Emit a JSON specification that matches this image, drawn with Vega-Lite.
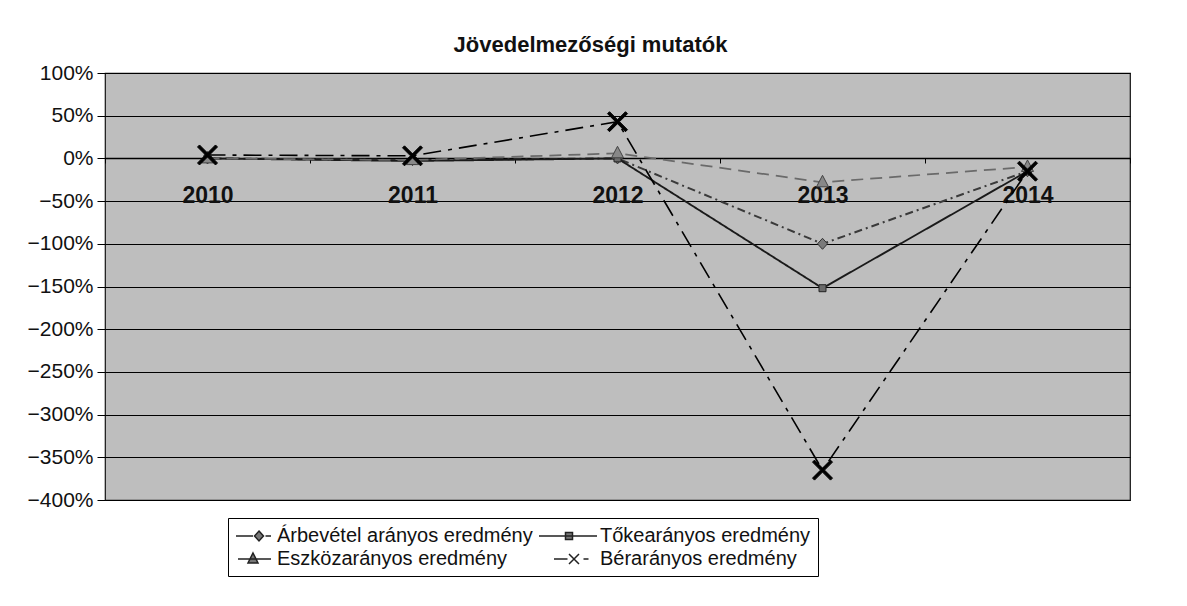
{
  "$schema": "https://vega.github.io/schema/vega-lite/v6.json",
  "autosize": "none",
  "width": 1025,
  "height": 427,
  "padding": {"left": 105, "top": 73, "right": 57, "bottom": 106},
  "background": "#ffffff",
  "title": {
    "text": "Jövedelmezőségi mutatók",
    "anchor": "middle",
    "frame": "group",
    "dx": -27,
    "offset": 5,
    "fontSize": 22,
    "fontWeight": "bold",
    "font": "Liberation Sans",
    "color": "#111"
  },
  "config": {
    "font": "Liberation Sans",
    "view": {"fill": "#bebebe", "stroke": "#111", "strokeWidth": 1.2}
  },
  "data": {
    "values": [
      {"year": "2010", "series": "Árbevétel arányos eredmény", "value": 0.0},
      {"year": "2011", "series": "Árbevétel arányos eredmény", "value": -0.02},
      {"year": "2012", "series": "Árbevétel arányos eredmény", "value": 0.0},
      {"year": "2013", "series": "Árbevétel arányos eredmény", "value": -1.0},
      {"year": "2014", "series": "Árbevétel arányos eredmény", "value": -0.15},
      {"year": "2010", "series": "Tőkearányos eredmény", "value": 0.0},
      {"year": "2011", "series": "Tőkearányos eredmény", "value": -0.03},
      {"year": "2012", "series": "Tőkearányos eredmény", "value": 0.0},
      {"year": "2013", "series": "Tőkearányos eredmény", "value": -1.52},
      {"year": "2014", "series": "Tőkearányos eredmény", "value": -0.15},
      {"year": "2010", "series": "Eszközarányos eredmény", "value": 0.0},
      {"year": "2011", "series": "Eszközarányos eredmény", "value": -0.02},
      {"year": "2012", "series": "Eszközarányos eredmény", "value": 0.06},
      {"year": "2013", "series": "Eszközarányos eredmény", "value": -0.28},
      {"year": "2014", "series": "Eszközarányos eredmény", "value": -0.1},
      {"year": "2010", "series": "Bérarányos eredmény", "value": 0.04},
      {"year": "2011", "series": "Bérarányos eredmény", "value": 0.03},
      {"year": "2012", "series": "Bérarányos eredmény", "value": 0.43},
      {"year": "2013", "series": "Bérarányos eredmény", "value": -3.65},
      {"year": "2014", "series": "Bérarányos eredmény", "value": -0.15}
    ]
  },
  "encoding": {
    "x": {
      "field": "year",
      "type": "ordinal",
      "scale": {"type": "band", "paddingInner": 0, "paddingOuter": 0},
      "axis": {
        "orient": "bottom",
        "offset": -342,
        "title": null,
        "labelAngle": 0,
        "labelFontSize": 23,
        "labelFontWeight": "bold",
        "labelColor": "#111",
        "labelPadding": 21,
        "domain": true,
        "domainColor": "#000",
        "domainWidth": 1.5,
        "ticks": true,
        "tickBand": "extent",
        "tickSize": 5,
        "tickColor": "#000",
        "grid": false
      }
    },
    "y": {
      "field": "value",
      "type": "quantitative",
      "scale": {"domain": [-4, 1], "nice": false, "zero": false},
      "axis": {
        "title": null,
        "values": [-4, -3.5, -3, -2.5, -2, -1.5, -1, -0.5, 0, 0.5, 1],
        "format": ".0%",
        "labelFontSize": 21,
        "labelColor": "#111",
        "labelPadding": 4,
        "tickSize": 8,
        "tickColor": "#000",
        "domain": false,
        "grid": true,
        "gridColor": "#000",
        "gridWidth": 1.2,
        "gridOpacity": 1
      }
    }
  },
  "layer": [
    {
      "mark": {"type": "line", "strokeCap": "butt"},
      "encoding": {
        "detail": {"field": "series"},
        "color": {
          "field": "series",
          "scale": {
            "domain": ["Árbevétel arányos eredmény", "Tőkearányos eredmény", "Eszközarányos eredmény", "Bérarányos eredmény"],
            "range": ["#3a3a3a", "#1a1a1a", "#6a6a6a", "#000000"]
          },
          "legend": null
        },
        "strokeDash": {
          "field": "series",
          "scale": {
            "domain": ["Árbevétel arányos eredmény", "Tőkearányos eredmény", "Eszközarányos eredmény", "Bérarányos eredmény"],
            "range": [[8, 4, 2, 4], [1, 0], [12, 7], [18, 7, 4, 7]]
          },
          "legend": null
        },
        "strokeWidth": {
          "field": "series",
          "type": "nominal",
          "scale": {
            "domain": ["Árbevétel arányos eredmény", "Tőkearányos eredmény", "Eszközarányos eredmény", "Bérarányos eredmény"],
            "range": [2, 1.6, 2.5, 3]
          },
          "legend": null
        }
      }
    },
    {
      "mark": {"type": "point", "size": 400, "strokeWidth": 1, "opacity": 1},
      "encoding": {
        "shape": {
          "field": "series",
          "scale": {
            "domain": ["Árbevétel arányos eredmény", "Tőkearányos eredmény", "Eszközarányos eredmény", "Bérarányos eredmény"],
            "range": [
              "M0,-0.55L0.5,0L0,0.55L-0.5,0Z",
              "M-0.35,-0.35H0.35V0.35H-0.35Z",
              "M0,-0.7L0.6,0.45L-0.6,0.45Z",
              "M-1,-0.8L-0.8,-1L0,-0.2L0.8,-1L1,-0.8L0.2,0L1,0.8L0.8,1L0,0.2L-0.8,1L-1,0.8L-0.2,0Z"
            ]
          },
          "legend": null
        },
        "fill": {
          "field": "series",
          "scale": {
            "domain": ["Árbevétel arányos eredmény", "Tőkearányos eredmény", "Eszközarányos eredmény", "Bérarányos eredmény"],
            "range": ["#7a7a7a", "#6a6a6a", "#888888", "#000000"]
          },
          "legend": null
        },
        "stroke": {
          "field": "series",
          "scale": {
            "domain": ["Árbevétel arányos eredmény", "Tőkearányos eredmény", "Eszközarányos eredmény", "Bérarányos eredmény"],
            "range": ["#333333", "#222222", "#444444", "#000000"]
          },
          "legend": null
        }
      }
    },
    {
      "transform": [{"filter": "false"}],
      "mark": {"type": "point", "filled": true, "size": 400, "fill": "#777", "stroke": "#222", "strokeWidth": 1.5},
      "encoding": {
        "shape": {
          "field": "series",
          "scale": {
            "domain": ["Árbevétel arányos eredmény", "Tőkearányos eredmény", "Eszközarányos eredmény", "Bérarányos eredmény"],
            "range": [
              "M-1,0H0.7M1.3,-0.5L1.75,0L1.3,0.5L0.85,0ZM1.95,0H2.5",
              "M-3,0H2.8M-0.35,-0.35H0.35V0.35H-0.35Z",
              "M-0.8,0H2.5M0.7,-0.6L1.2,0.4L0.2,0.4Z",
              "M-1.5,0H-0.15M0,-0.5L1,0.5M0,0.5L1,-0.5M1.45,0H1.95"
            ]
          },
          "legend": {
            "orient": "none",
            "direction": "horizontal",
            "legendX": 123,
            "legendY": 445,
            "title": null,
            "columns": 2,
            "columnPadding": 3,
            "rowPadding": 2,
            "padding": 7,
            "strokeColor": "#000",
            "fillColor": "#ffffff",
            "labelFontSize": 20,
            "labelColor": "#111",
            "labelFont": "Liberation Sans",
            "labelOffset": 20,
            "labelLimit": 400,
            "symbolSize": 400,
            "symbolOpacity": 1,
            "encode": {
              "symbols": {
                "update": {
                  "fill": {"value": "#777777"},
                  "stroke": {"value": "#222222"},
                  "strokeWidth": {"value": 1.5},
                  "opacity": {"value": 1}
                }
              }
            }
          }
        }
      }
    }
  ],
  "resolve": {"scale": {"shape": "independent"}}
}
